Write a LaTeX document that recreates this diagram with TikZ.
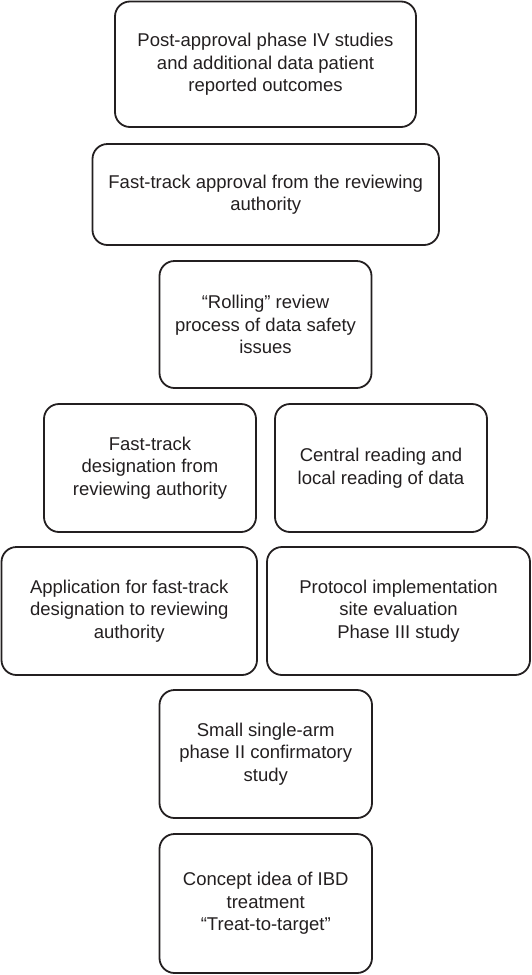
\documentclass[tikz,border=0pt]{standalone}
\usepackage{fontspec}
\setmainfont{Liberation Sans}
\definecolor{ink}{HTML}{231F20}
\begin{document}
\begin{tikzpicture}[x=1pt,y=-1pt,
  box/.style={draw=ink, line width=1.8pt, rounded corners=15pt, inner sep=0pt,
    align=center, text=ink, font=\fontsize{18.5}{22.5}\selectfont}]
\useasboundingbox (0,0) rectangle (532,975);
\node[box, minimum width=301pt, minimum height=125.5pt] (b1) at (265.5,64.25)
  {Post-approval phase IV studies\\and additional data patient\\reported outcomes};
\node[box, minimum width=346.5pt, minimum height=101pt] (b2) at (265.75,194.5)
  {Fast-track approval from the reviewing\\authority};
\node[box, minimum width=212pt, minimum height=127pt] (b3) at (265.5,324.5)
  {``Rolling'' review\\process of data safety\\issues};
\node[box, minimum width=212pt, minimum height=128pt] (b4) at (150,468)
  {Fast-track\\designation from\\reviewing authority};
\node[box, minimum width=212pt, minimum height=128pt] (b5) at (381,468)
  {Central reading and\\local reading of data};
\node[box, minimum width=255.5pt, minimum height=128pt] (b6) at (129.25,611)
  {Application for fast-track\\designation to reviewing\\authority};
\node[box, minimum width=263pt, minimum height=128pt] (b7) at (398.5,611)
  {Protocol implementation\\site evaluation\\Phase III study};
\node[box, minimum width=212.5pt, minimum height=128pt] (b8) at (265.75,754)
  {Small single-arm\\phase II confirmatory\\study};
\node[box, minimum width=212.5pt, minimum height=139pt] (b9) at (265.75,903.5)
  {Concept idea of IBD\\treatment\\``Treat-to-target''};
\end{tikzpicture}
\end{document}
